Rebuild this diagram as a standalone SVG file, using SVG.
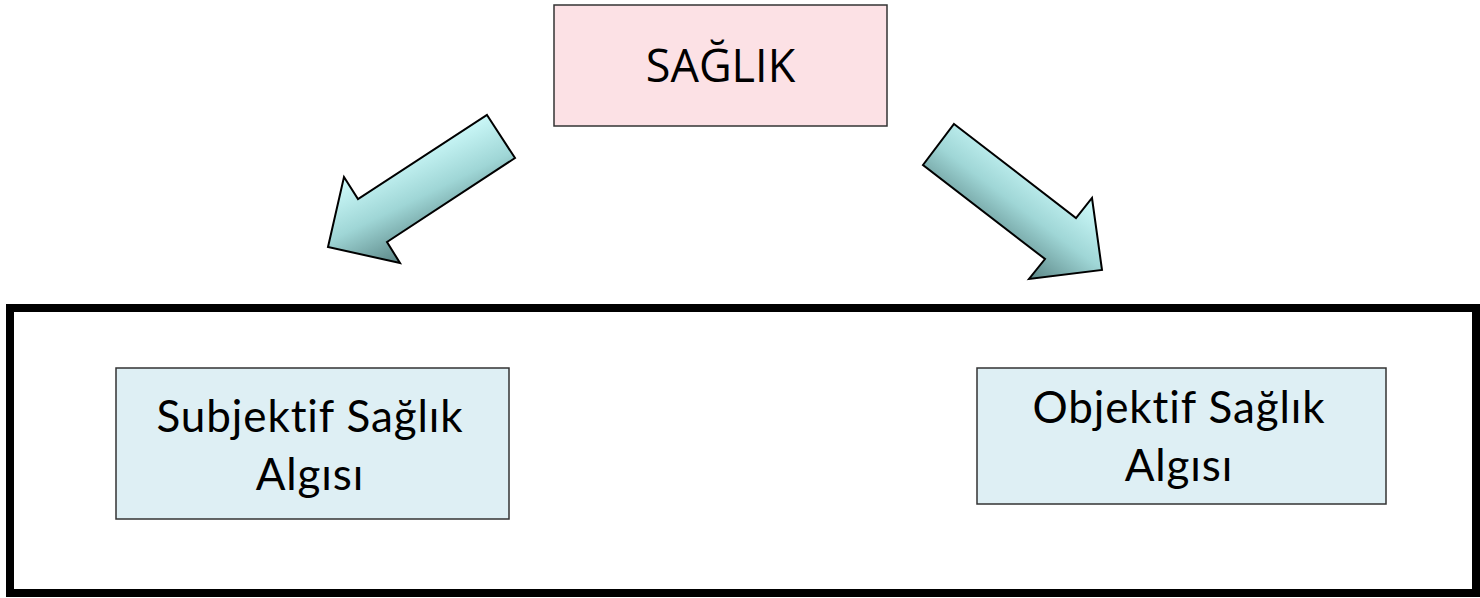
<svg xmlns="http://www.w3.org/2000/svg" width="1480" height="598" viewBox="0 0 1480 598">
<style>
.box{stroke:#333;stroke-width:1.5}
.lbl{font-family:Lato,"Open Sans","DejaVu Sans",sans-serif;font-size:44px;letter-spacing:0.9px;fill:#000;text-anchor:middle}
.top{font-family:"Open Sans","DejaVu Sans",sans-serif;font-size:45px;fill:#000;text-anchor:middle}
.arrow{stroke:#000;stroke-width:2;stroke-linejoin:miter}
</style>
<defs>
<linearGradient id="gL" gradientUnits="userSpaceOnUse" x1="445" y1="241" x2="401" y2="150">
<stop offset="0" stop-color="#5a8585"/>
<stop offset="0.5" stop-color="#9fd6d6"/>
<stop offset="1" stop-color="#d0fcfc"/>
</linearGradient>
<linearGradient id="gR" gradientUnits="userSpaceOnUse" x1="979" y1="241" x2="1041" y2="159">
<stop offset="0" stop-color="#5a8585"/>
<stop offset="0.5" stop-color="#9fd6d6"/>
<stop offset="1" stop-color="#d0fcfc"/>
</linearGradient>
</defs>
<g id="frame">
<rect x="10" y="308" width="1466" height="285" fill="#fff" stroke="#000" stroke-width="8"/>
</g>
<g id="saglik">
<rect class="box" x="554" y="5" width="333" height="121" fill="#fce1e5"/>
<text class="top" x="720.5" y="82">SAĞLIK</text>
</g>
<g id="subjektif">
<rect class="box" x="116" y="368" width="393" height="151" fill="#deeff4"/>
<text class="lbl" x="310" y="432">Subjektif Sağlık</text>
<text class="lbl" x="310" y="490">Algısı</text>
</g>
<g id="objektif">
<rect class="box" x="977" y="368" width="409" height="136" fill="#deeff4"/>
<text class="lbl" x="1179" y="423">Objektif Sağlık</text>
<text class="lbl" x="1179" y="481">Algısı</text>
</g>
<g id="connectors">
<polygon class="arrow" fill="url(#gL)" points="487,115 515,158 387,242 400,263 328,247 344,177 358,199"/>
<polygon class="arrow" fill="url(#gR)" points="954,124 1076,218 1092,198 1102,270 1029,279 1045,259 923,165"/>
</g>
</svg>
